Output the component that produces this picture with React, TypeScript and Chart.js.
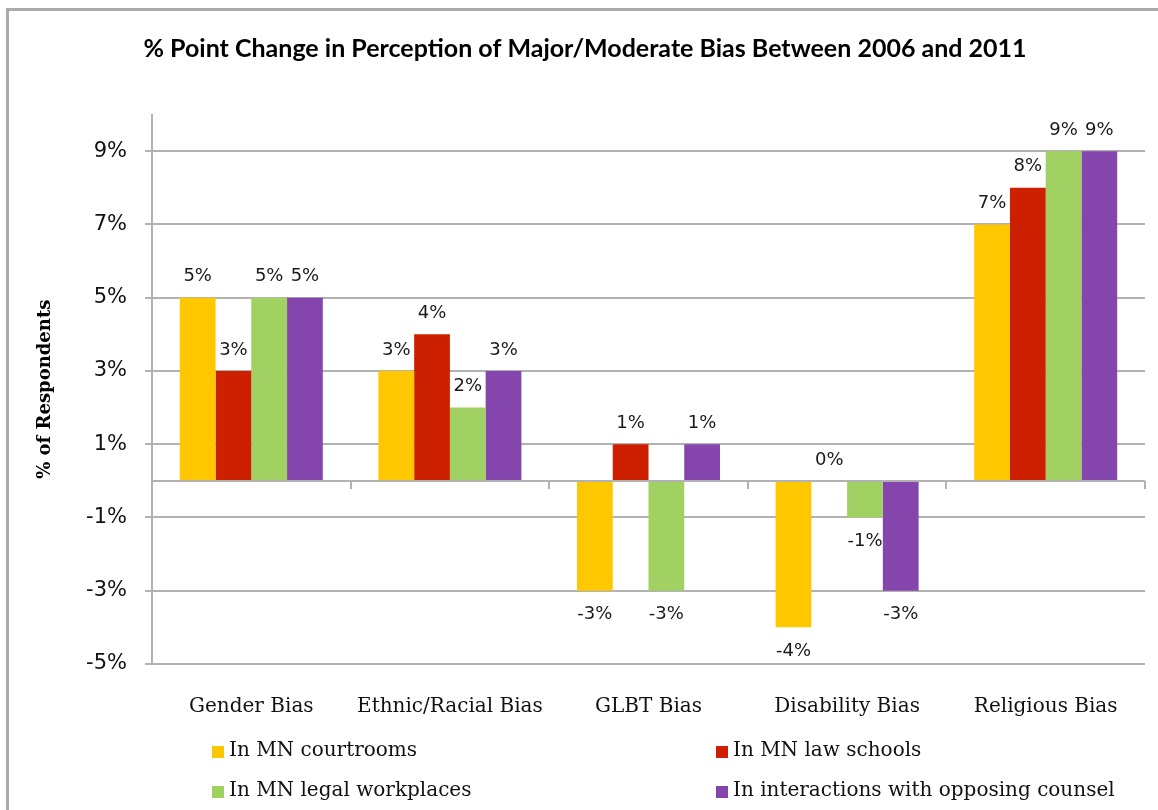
import React, { useEffect, useRef } from "react";
import { Chart, registerables } from "chart.js";

Chart.register(...registerables);

const titleText = "% Point Change in Perception of Major/Moderate Bias Between 2006 and 2011";
const yTitle = "% of Respondents";
const categories = ["Gender Bias", "Ethnic/Racial Bias", "GLBT Bias", "Disability Bias", "Religious Bias"];
const seriesNames = [
  "In MN courtrooms",
  "In MN law schools",
  "In MN legal workplaces",
  "In interactions with opposing counsel",
];
const courtrooms = [5, 3, -3, -4, 7];
const lawSchools = [3, 4, 1, 0, 8];
const workplaces = [5, 2, -3, -1, 9];
const opposingCounsel = [5, 3, 1, -3, 9];
const yTicks = [-5, -3, -1, 1, 3, 5, 7, 9];
const colors = ["#FFC700", "#CC2000", "#A2D163", "#8446AC"];

const GRID = "#b2b2b2";

const overlayPlugin = {
  id: "overlay",
  afterDatasetsDraw(chart: any) {
    const ctx = chart.ctx;
    const { left, right } = chart.chartArea;
    const ys = chart.scales.y;
    const xs = chart.scales.x;
    const y0 = Math.round(ys.getPixelForValue(0));
    ctx.save();
    // zero axis line with category tick marks
    ctx.strokeStyle = GRID;
    ctx.lineWidth = 2;
    ctx.beginPath();
    ctx.moveTo(left, y0);
    ctx.lineTo(right, y0);
    for (let i = 1; i <= categories.length; i++) {
      const bx = Math.round(xs.getPixelForValue(i - 0.5));
      ctx.moveTo(bx, y0);
      ctx.lineTo(bx, y0 + 8);
    }
    ctx.stroke();

    // data labels
    ctx.fillStyle = "#1a1a1a";
    ctx.font = "18px 'DejaVu Sans'";
    ctx.textAlign = "center";
    ctx.textBaseline = "middle";
    chart.data.datasets.forEach((ds: any, di: number) => {
      const meta = chart.getDatasetMeta(di);
      meta.data.forEach((el: any, i: number) => {
        const v = ds.data[i];
        const ly = v >= 0 ? el.y - 21 : el.y + 24;
        ctx.fillText(`${v}%`, el.x, ly);
      });
    });

    // legend
    const legendCols = [212, 716];
    const legendRows = [751, 791];
    ctx.font = "20px 'DejaVu Serif'";
    ctx.textAlign = "left";
    chart.data.datasets.forEach((ds: any, di: number) => {
      const lx = legendCols[di % 2];
      const ly = legendRows[Math.floor(di / 2)];
      ctx.fillStyle = ds.backgroundColor;
      ctx.fillRect(lx, ly - 5, 12, 12);
      ctx.fillStyle = "#111";
      ctx.fillText(ds.label, lx + 17, ly);
    });
    ctx.restore();
  },
};

export default function App() {
  const canvasRef = useRef<HTMLCanvasElement | null>(null);

  useEffect(() => {
    if (!canvasRef.current) return;
    const seriesValues = [courtrooms, lawSchools, workplaces, opposingCounsel];
    const chart = new Chart(canvasRef.current, {
      type: "bar",
      data: {
        labels: categories,
        datasets: seriesValues.map((vals, i) => ({
          label: seriesNames[i],
          data: vals,
          backgroundColor: colors[i],
          borderWidth: 0,
          categoryPercentage: 0.72,
          barPercentage: 1.0,
        })),
      },
      options: {
        responsive: false,
        animation: false,
        devicePixelRatio: 1,
        layout: { padding: { top: 0, left: 25, right: 13, bottom: 0 } },
        plugins: {
          legend: { display: false },
          tooltip: { enabled: false },
          title: {
            display: true,
            text: titleText,
            color: "#000",
            font: { family: "Lato", size: 25, weight: "bold", lineHeight: 1.1 },
            padding: { top: 35, bottom: 52 },
          },
        },
        scales: {
          x: {
            type: "category",
            grid: { display: false, drawTicks: false },
            border: { display: false },
            ticks: {
              color: "#111",
              font: { family: "DejaVu Serif", size: 20 },
              padding: 31,
              autoSkip: false,
              maxRotation: 0,
            },
            afterFit: (scale: any) => {
              scale.height = 146;
            },
          },
          y: {
            min: -5,
            max: 10,
            afterBuildTicks: (scale: any) => {
              scale.ticks = yTicks.map((v) => ({ value: v }));
            },
            afterFit: (scale: any) => {
              scale.width = 127;
            },
            grid: { color: GRID, lineWidth: 2, tickLength: 7, drawTicks: true },
            border: { display: true, color: GRID, width: 2 },
            ticks: {
              color: "#111",
              font: { family: "DejaVu Sans", size: 21 },
              padding: 18,
              callback: (v: any) => `${v}%`,
            },
            title: {
              display: true,
              text: yTitle,
              color: "#000",
              font: { family: "DejaVu Serif", size: 18, weight: "bold" },
              padding: { top: 10, bottom: 0 },
            },
          },
        },
      },
      plugins: [overlayPlugin],
    } as any);
    return () => chart.destroy();
  }, []);

  return (
    <div style={{ position: "fixed", left: 0, top: 0, width: 1158, height: 810, background: "#fff", overflow: "hidden" }}>
      <div
        style={{
          position: "absolute",
          left: 6,
          top: 8,
          width: 1200,
          height: 900,
          borderLeft: "3px solid #aaaaaa",
          borderTop: "3px solid #aaaaaa",
        }}
      />
      <canvas
        ref={canvasRef}
        width={1158}
        height={810}
        style={{ position: "absolute", left: 0, top: 0, width: 1158, height: 810 }}
      />
    </div>
  );
}
